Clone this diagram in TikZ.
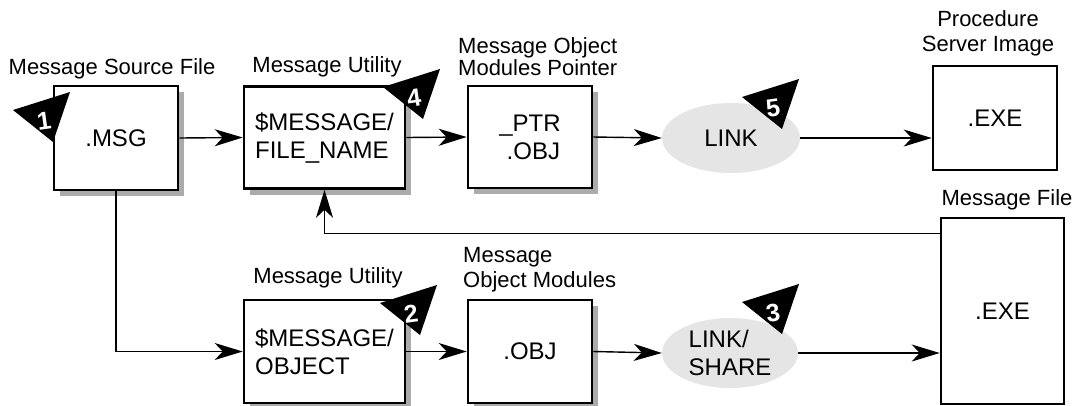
\documentclass[tikz,border=0pt]{standalone}
\usepackage{fontspec}
\setmainfont{Liberation Sans}
\usetikzlibrary{arrows.meta,shapes.geometric,shadows,calc}

% numbered black triangle marker: name, corner x, corner y, number
\newcommand\stepbadge[4]{%
  \fill (#2,#3) -- ++(57,-18) -- ++(-17,50) -- cycle;
  \node[badgenum] (#1) at ($(#2,#3)+(31,11)$) {#4};}

\begin{document}
\begin{tikzpicture}[x=1pt,y=-1pt,
  boxtext/.style={font=\fontsize{24}{28}\selectfont},
  lbl/.style={font=\fontsize{22}{25}\selectfont, inner sep=0pt},
  filebox/.style={draw, line width=2.6pt, fill=white, inner sep=0pt, boxtext},
  shadowed/.style={drop shadow={shadow xshift=6pt, shadow yshift=-6pt, fill=black!33, opacity=1}},
  procoval/.style={ellipse, fill=black!10, inner sep=0pt, boxtext},
  conn/.style={line width=1.4pt, -{Stealth[length=28pt,width=17pt,inset=8pt]}},
  badgenum/.style={text=white, font=\fontsize{25}{25}\selectfont\bfseries, inner sep=0pt, rotate=8},
]
\useasboundingbox (0,0) rectangle (1075,405);

% ---- upper row ----
\node[filebox, shadowed, minimum width=124pt, minimum height=104pt] (msg) at (116,138) {.MSG};
\node[filebox, shadowed, minimum width=161pt, minimum height=102pt, align=left] (util1) at (324.5,137.5) {\$MESSAGE/\\FILE\_NAME};
\node[filebox, shadowed, minimum width=124pt, minimum height=102pt, align=center] (ptr) at (530,137) {\_PTR\\\ .OBJ};
\node[procoval, minimum width=138pt, minimum height=70pt] (link1) at (731,138) {LINK};
\node[filebox, minimum width=124pt, minimum height=104pt] (exe1) at (995,118) {.EXE};

% ---- lower row ----
\node[filebox, shadowed, minimum width=161pt, minimum height=103pt, align=left] (util2) at (324.5,351.5) {\$MESSAGE/\\OBJECT};
\node[filebox, shadowed, minimum width=124pt, minimum height=103pt] (obj) at (530,351.5) {.OBJ};
\node[procoval, minimum width=136pt, minimum height=70pt, align=left] (link2) at (730,353) {LINK/\\SHARE};
\node[filebox, minimum width=123pt, minimum height=186pt] (exe2) at (1002.5,311) {.EXE};

% ---- captions ----
\node[lbl] (cap-msg) at (112,69) {Message Source File};
\node[lbl] (cap-util1) at (327,67) {Message Utility};
\node[lbl, anchor=west, align=left] (cap-ptr) at (458,57) {Message Object\\[-3pt]Modules Pointer};
\node[lbl, align=center] (cap-exe1) at (988,33) {Procedure\\Server Image};
\node[lbl] (cap-exe2) at (1007,200) {Message File};
\node[lbl] (cap-util2) at (328,278) {Message Utility};
\node[lbl, anchor=west, align=left] (cap-obj) at (463,270) {Message\\Object Modules};

% ---- connectors ----
\draw[conn] (msg.east) -- (util1.west);
\draw[conn] (util1.east) -- (ptr.west);
\draw[conn] (ptr.east) -- (link1.west);
\draw[conn] (link1.east) -- (link1.east -| exe1.west);
\draw[conn] (msg.south) |- (util2.west);
\draw[conn] (util2.east) -- (obj.west);
\draw[conn] (obj.east) -- (link2.west);
\draw[conn] (link2.east) -- (link2.east -| exe2.west);
\coordinate (fb) at ([yshift=-17pt]exe2.north west);
\draw[conn] (fb) -| (util1.south);

% ---- step markers ----
\stepbadge{b1}{13}{110}{1}
\stepbadge{b2}{380}{303}{2}
\stepbadge{b3}{742}{302}{3}
\stepbadge{b4}{383}{87}{4}
\stepbadge{b5}{742}{97}{5}
\end{tikzpicture}
\end{document}
